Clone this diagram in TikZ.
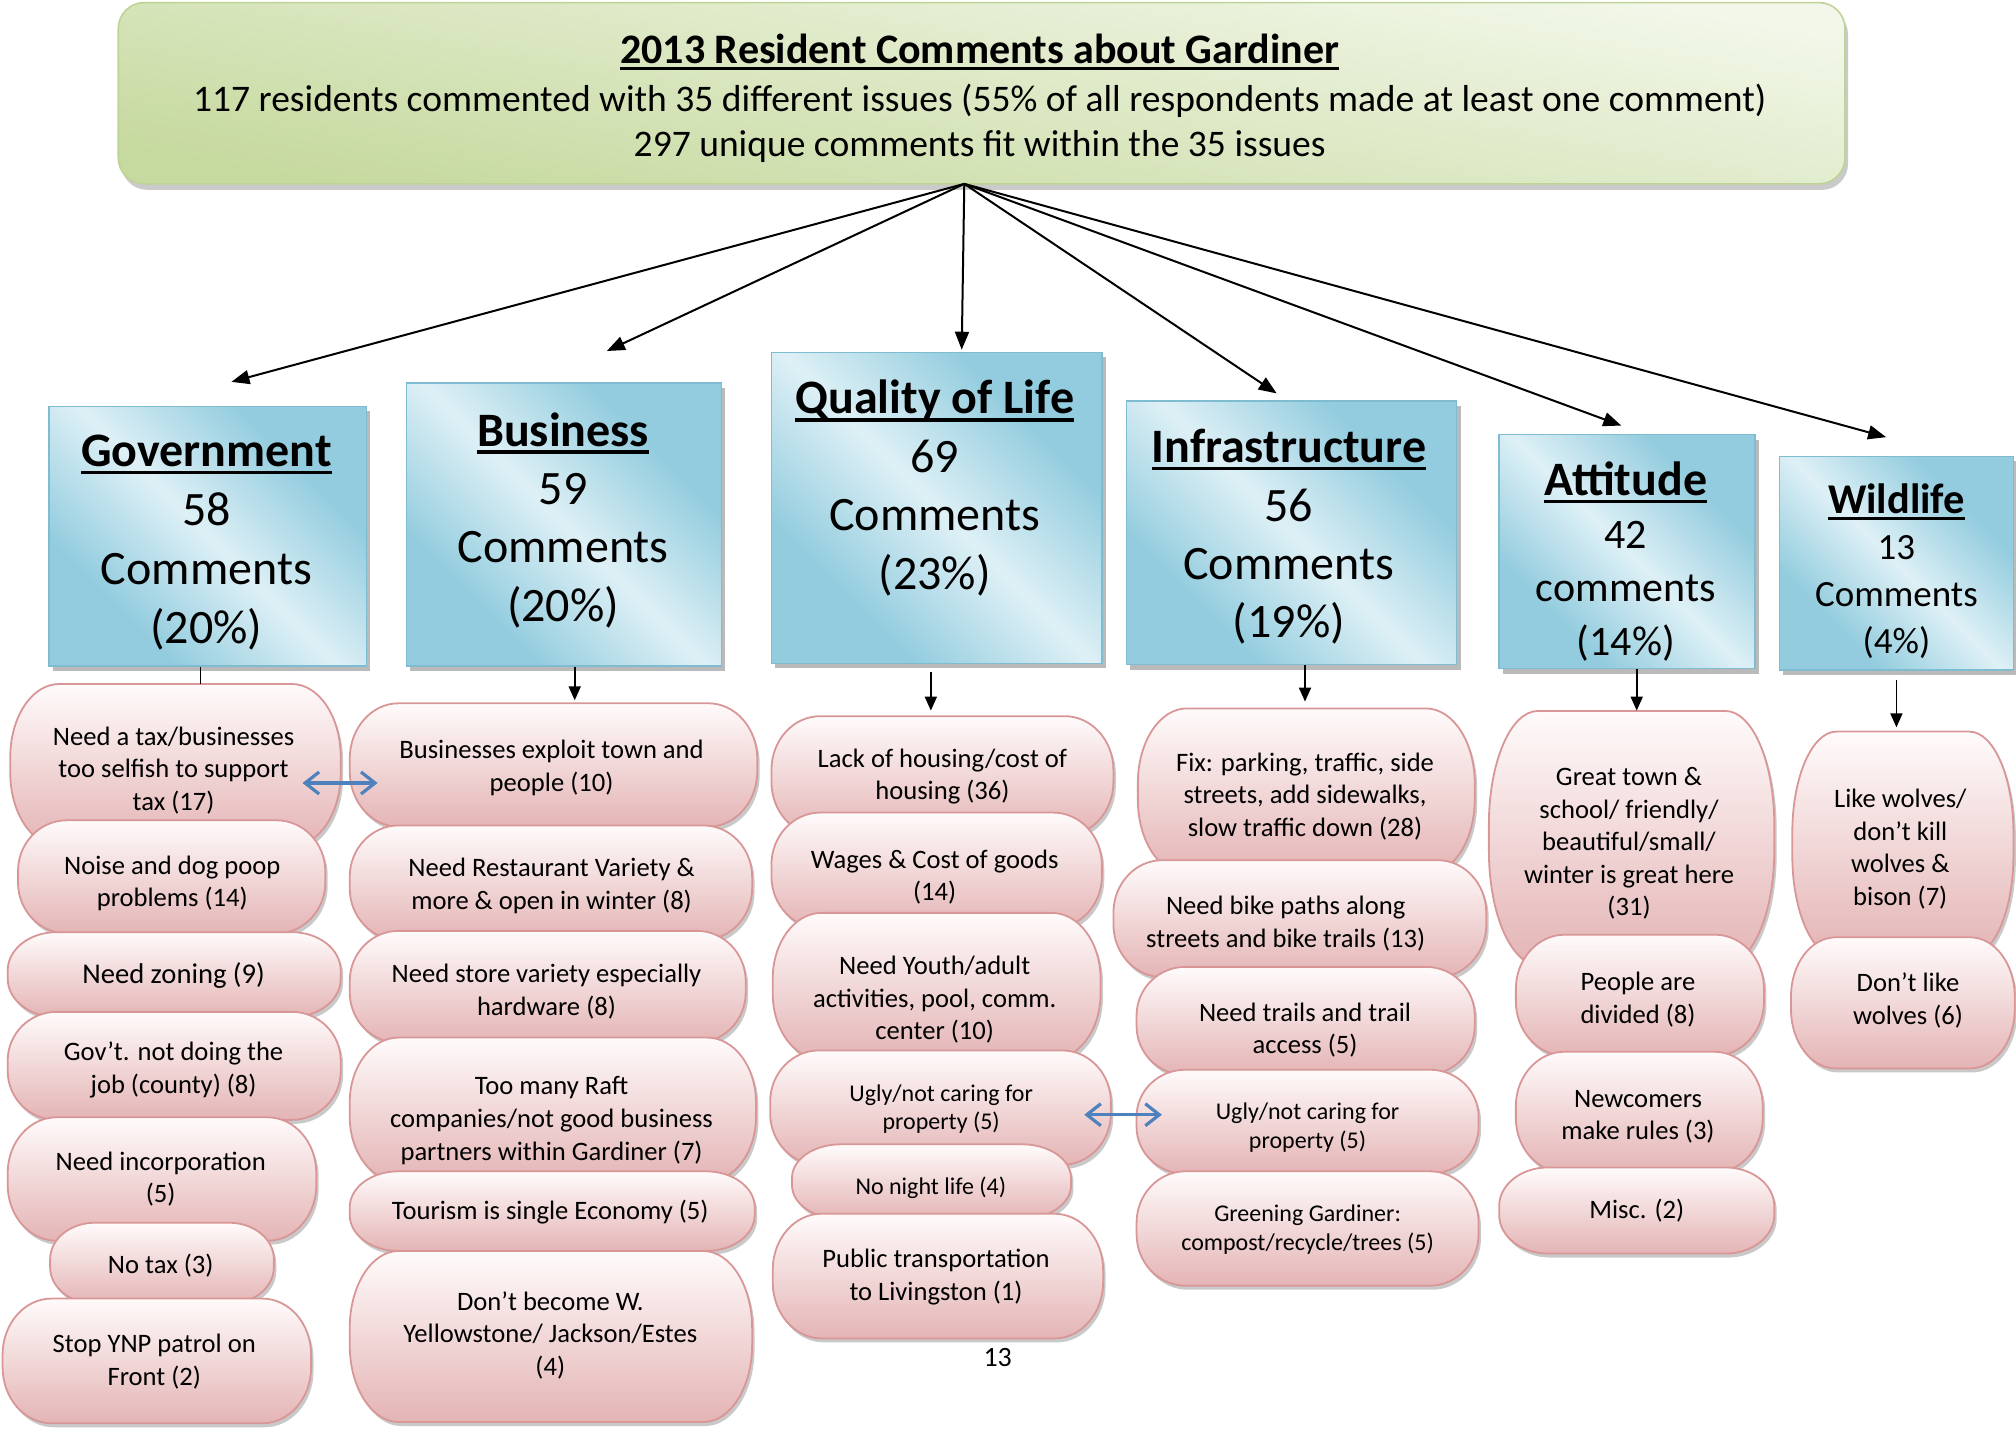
\documentclass[tikz,border=0pt]{standalone}
\usepackage{fontspec}
\setmainfont{Carlito}
\usetikzlibrary{arrows.meta,shadows,calc}
\definecolor{pinkT}{RGB}{255,251,251}
\definecolor{pinkB}{RGB}{228,180,181}
\definecolor{pinkD}{RGB}{217,150,150}
\definecolor{blueL}{RGB}{222,240,246}
\definecolor{blueD}{RGB}{146,204,222}
\definecolor{blueE}{RGB}{128,188,208}
\definecolor{greenL}{RGB}{242,247,233}
\definecolor{greenD}{RGB}{198,217,158}
\definecolor{greenE}{RGB}{190,212,150}
\definecolor{arrblue}{RGB}{79,129,189}
\pgfdeclarehorizontalshading{bluediag}{100bp}{color(0bp)=(blueD); color(30bp)=(blueD); color(50bp)=(blueL); color(70bp)=(blueD); color(100bp)=(blueD)}
\def\un{0.642857pt}
\newcommand\myul[1]{\setbox0\hbox{#1}\rlap{\rule[-0.16em]{\wd0}{0.075em}}\box0}
\newcommand\pbox[9]{%
  \pgfmathsetmacro\prx{min(38,0.2*(#5-#3))}%
  \pgfmathsetmacro\pry{0.45*(#6-#4)}%
  \path[pinkshape] ({#3+\prx},#4) -- ({#5-\prx},#4)
    .. controls ({#5-0.4477*\prx},#4) and (#5,{#4+0.4477*\pry}) .. (#5,{#4+\pry})
    -- (#5,{#6-\pry})
    .. controls (#5,{#6-0.4477*\pry}) and ({#5-0.4477*\prx},#6) .. ({#5-\prx},#6)
    -- ({#3+\prx},#6)
    .. controls ({#3+0.4477*\prx},#6) and (#3,{#6-0.4477*\pry}) .. (#3,{#6-\pry})
    -- (#3,{#4+\pry})
    .. controls (#3,{#4+0.4477*\pry}) and ({#3+0.4477*\prx},#4) .. ({#3+\prx},#4)
    -- cycle;
  \node[boxarea, minimum width={(#5-#3)*\un}, minimum height={(#6-#4)*\un}] (#1) at ({(#3+#5)/2},{(#4+#6)/2}) {};
  \node[ptext,#2] (#1t) at (#7,#8) {#9};
}
\begin{document}
\begin{tikzpicture}[x=0.642857pt, y=-0.642857pt,
  topbox/.style={rounded corners=13pt, draw=greenE, line width=0.8pt, top color=greenL, bottom color=greenD, shading angle=-10,
    drop shadow={shadow xshift=1.5pt, shadow yshift=-3pt, opacity=.35, fill=black!60}, inner sep=0pt},
  toptext/.style={inner sep=0pt, align=center, yshift=-1pt},
  catbox/.style={draw=blueE, line width=0.7pt, shade, shading=bluediag, shading angle=45,
    drop shadow={shadow xshift=2pt, shadow yshift=-2.5pt, opacity=.45, fill=black!60}, inner sep=0pt},
  cattext/.style={align=center, inner sep=0pt, yshift=-2.3pt, font=\fontsize{24}{29.5}\selectfont},
  pinkshape/.style={draw=pinkD, line width=0.9pt, top color=pinkT, bottom color=pinkB,
    drop shadow={shadow xshift=1.2pt, shadow yshift=-2pt, opacity=.3, fill=black!70}},
  boxarea/.style={inner sep=0pt, draw=none},
  ptext/.style={align=center, inner sep=0pt, yshift=-1pt, font=\fontsize{13.3}{16.3}\selectfont},
  psmall/.style={font=\fontsize{12}{14.4}\selectfont},
  bigarrow/.style={-{Triangle[length=9pt,width=7pt]}, line width=1pt, black},
  smallarrow/.style={-{Triangle[length=7pt,width=6pt]}, line width=0.9pt, black},
  dblarrow/.style={{Straight Barb[length=7pt,width=11pt]}-{Straight Barb[length=7pt,width=11pt]}, line width=1.6pt, arrblue}
]
\useasboundingbox (0,0) rectangle (1568,1110.67);

% top box
\node[topbox, minimum width={1343*\un}, minimum height={141*\un}] (top) at (763.5,72.5) {};
\node[toptext, font=\fontsize{21}{25}\selectfont\bfseries] (title) at (762,39) {\myul{2013 Resident Comments about Gardiner}};
\node[toptext, font=\fontsize{18.77}{23}\selectfont] (line2) at (762,77) {117 residents commented with 35 different issues (55\% of all respondents made at least one comment)};
\node[toptext, font=\fontsize{18.77}{23}\selectfont] (line3) at (762,112) {297 unique comments fit within the 35 issues};

% category boxes
\node[catbox, minimum width={247*\un}, minimum height={202*\un}] (gov) at (161.5,417) {};
\node[catbox, minimum width={245*\un}, minimum height={220*\un}] (bus) at (438.5,408) {};
\node[catbox, minimum width={257*\un}, minimum height={242*\un}] (qol) at (728.5,395) {};
\node[catbox, minimum width={257*\un}, minimum height={205*\un}] (inf) at (1004.5,414.5) {};
\node[catbox, minimum width={199*\un}, minimum height={182*\un}] (att) at (1265.5,429) {};
\node[catbox, minimum width={182*\un}, minimum height={166*\un}] (wild) at (1475,438) {};

\node[cattext] (govt) at (160.5,418.5) {\textbf{\myul{Government}}\\58\\Comments\\(20\%)};
\node[cattext, font=\fontsize{24}{29.2}\selectfont] (bust) at (438,401) {\textbf{\myul{Business}}\\59\\Comments\\(20\%)};
\node[cattext, font=\fontsize{24}{29.2}\selectfont] (qolt) at (727,376) {\textbf{\myul{Quality of Life}}\\69\\Comments\\(23\%)};
\node[cattext, font=\fontsize{24}{29.2}\selectfont] (inft) at (1002.5,414) {\textbf{\myul{Infrastructure}}\\56\\Comments\\(19\%)};
\node[cattext, font=\fontsize{21}{26.6}\selectfont] (attt) at (1264.5,433) {{\fontsize{24}{26.6}\selectfont\textbf{\myul{Attitude}}}\\42\\comments\\(14\%)};
\node[cattext, font=\fontsize{18.5}{23.4}\selectfont] (wildt) at (1475,440.5) {{\fontsize{21.2}{23.4}\selectfont\textbf{\myul{Wildlife}}}\\13\\Comments\\(4\%)};

% Government column
\pbox{g1}{}{8}{532}{265}{658}{135}{597.5}{Need a tax/businesses\\too selfish to support\\tax (17)}
\pbox{g2}{}{14}{638}{253}{726}{134}{685.5}{Noise and dog poop\\problems (14)}
\pbox{g3}{font=\fontsize{14.3}{17}\selectfont}{6}{725}{265}{791}{135}{757}{Need zoning (9)}
\pbox{g4}{}{6}{787}{265}{871}{135}{830.5}{Gov’t. not doing the\\job (county) (8)}
\pbox{g5}{}{6}{869}{246}{965}{125}{915.5}{Need incorporation\\(5)}
\pbox{g6}{}{39}{951}{213}{1014}{125}{983}{No tax (3)}
\pbox{g7}{}{2}{1010}{242}{1107}{120}{1057.5}{Stop YNP patrol on\\Front (2)}

% Business column
\pbox{b1}{}{272}{547}{589}{643}{429}{595.5}{Businesses exploit town and\\people (10)}
\pbox{b2}{}{272}{642}{585}{731}{429}{687.5}{Need Restaurant Variety \&\\more \& open in winter (8)}
\pbox{b3}{}{272}{724}{580}{811}{425}{769.5}{Need store variety especially\\hardware (8)}
\pbox{b4}{}{272}{807}{588}{919}{429}{870}{Too many Raft\\companies/not good business\\partners within Gardiner (7)}
\pbox{b5}{}{272}{911}{587}{973}{428}{941}{Tourism is single Economy (5)}
\pbox{b6}{}{272}{973}{585}{1106}{428}{1037}{Don’t become W.\\Yellowstone/ Jackson/Estes\\(4)}

% Quality of life column
\pbox{q1}{}{600}{557}{866}{650}{733}{602.5}{Lack of housing/cost of\\housing (36)}
\pbox{q2}{}{600}{632}{857}{722}{727}{680.5}{Wages \& Cost of goods\\(14)}
\pbox{q3}{}{601}{710}{856}{824}{727}{776}{Need Youth/adult\\activities, pool, comm.\\center (10)}
\pbox{q4}{psmall}{599}{817}{864}{906}{732}{861}{Ugly/not caring for\\property (5)}
\pbox{q5}{psmall}{616}{890}{833}{948}{724}{922}{No night life (4)}
\pbox{q6}{}{601}{944}{858}{1041}{728}{991.5}{Public transportation\\to Livingston (1)}

% Infrastructure column
\pbox{i1}{}{885}{551}{1147}{680}{1015}{618}{Fix: parking, traffic, side\\streets, add sidewalks,\\slow traffic down (28)}
\pbox{i2}{}{866}{669}{1156}{760}{1000}{717}{Need bike paths along\\streets and bike trails (13)}
\pbox{i3}{}{884}{752}{1147}{836}{1015}{799.5}{Need trails and trail\\access (5)}
\pbox{i4}{psmall}{884}{832}{1150}{913}{1017}{875.5}{Ugly/not caring for\\property (5)}
\pbox{i5}{psmall}{884}{911}{1150}{1000}{1017}{954.5}{Greening Gardiner:\\compost/recycle/trees (5)}

% Attitude column
\pbox{a1}{}{1158}{553}{1380}{750}{1267}{654.5}{Great town \&\\school/ friendly/\\beautiful/small/\\winter is great here\\(31)}
\pbox{a2}{}{1179}{727}{1372}{821}{1274}{776}{People are\\divided (8)}
\pbox{a3}{}{1179}{818}{1371}{912}{1274}{867}{Newcomers\\make rules (3)}
\pbox{a4}{}{1166}{908}{1380}{975}{1273}{940}{Misc. (2)}

% Wildlife column
\pbox{w1}{}{1394}{569}{1566}{744}{1478}{659}{Like wolves/\\don’t kill\\wolves \&\\bison (7)}
\pbox{w2}{}{1393}{729}{1567}{831}{1484}{776.5}{Don’t like\\wolves (6)}

% page number
\node[inner sep=0pt, font=\fontsize{14}{16}\selectfont] (pagenum) at (776,1056) {13};

% arrows from top box
\coordinate (src) at (750,143);
\coordinate (tG) at (180,297);
\coordinate (tB) at (472,273);
\coordinate (tQ) at (748,272);
\coordinate (tI) at (993,306);
\coordinate (tA) at (1261,331);
\coordinate (tW) at (1467,340);
\foreach \t in {tG,tB,tQ,tI,tA,tW} \draw[bigarrow] (src) -- (\t);

% arrows from category boxes
\draw[line width=0.9pt] ($(gov.south)+(-5.5,0)$) -- ($(gov.south|-g1.north)+(-5.5,0)$);
\draw[smallarrow] ($(bus.south)+(8.5,0)$) -- ($(bus.south|-b1.north)+(8.5,-2)$);
\draw[smallarrow] ($(qol.south)+(-4.5,6)$) -- ($(qol.south|-q1.north)+(-4.5,-4)$);
\draw[smallarrow] ($(inf.south)+(10.5,0)$) -- ($(inf.south|-i1.north)+(10.5,-5)$);
\draw[smallarrow] ($(att.south)+(7.5,0)$) -- ($(att.south|-a1.north)+(7.5,0)$);
\draw[smallarrow] ($(wild.south)+(0,7)$) -- ($(wild.south|-w1.north)+(0,-3)$);

% double arrows
\draw[dblarrow] ($(g1.east)+(-30,14)$) -- ($(b1.west)+(22,14)$);
\draw[dblarrow] ($(q4.east)+(-21,5.5)$) -- ($(i4.west)+(20,-5.5)$);
\end{tikzpicture}
\end{document}
